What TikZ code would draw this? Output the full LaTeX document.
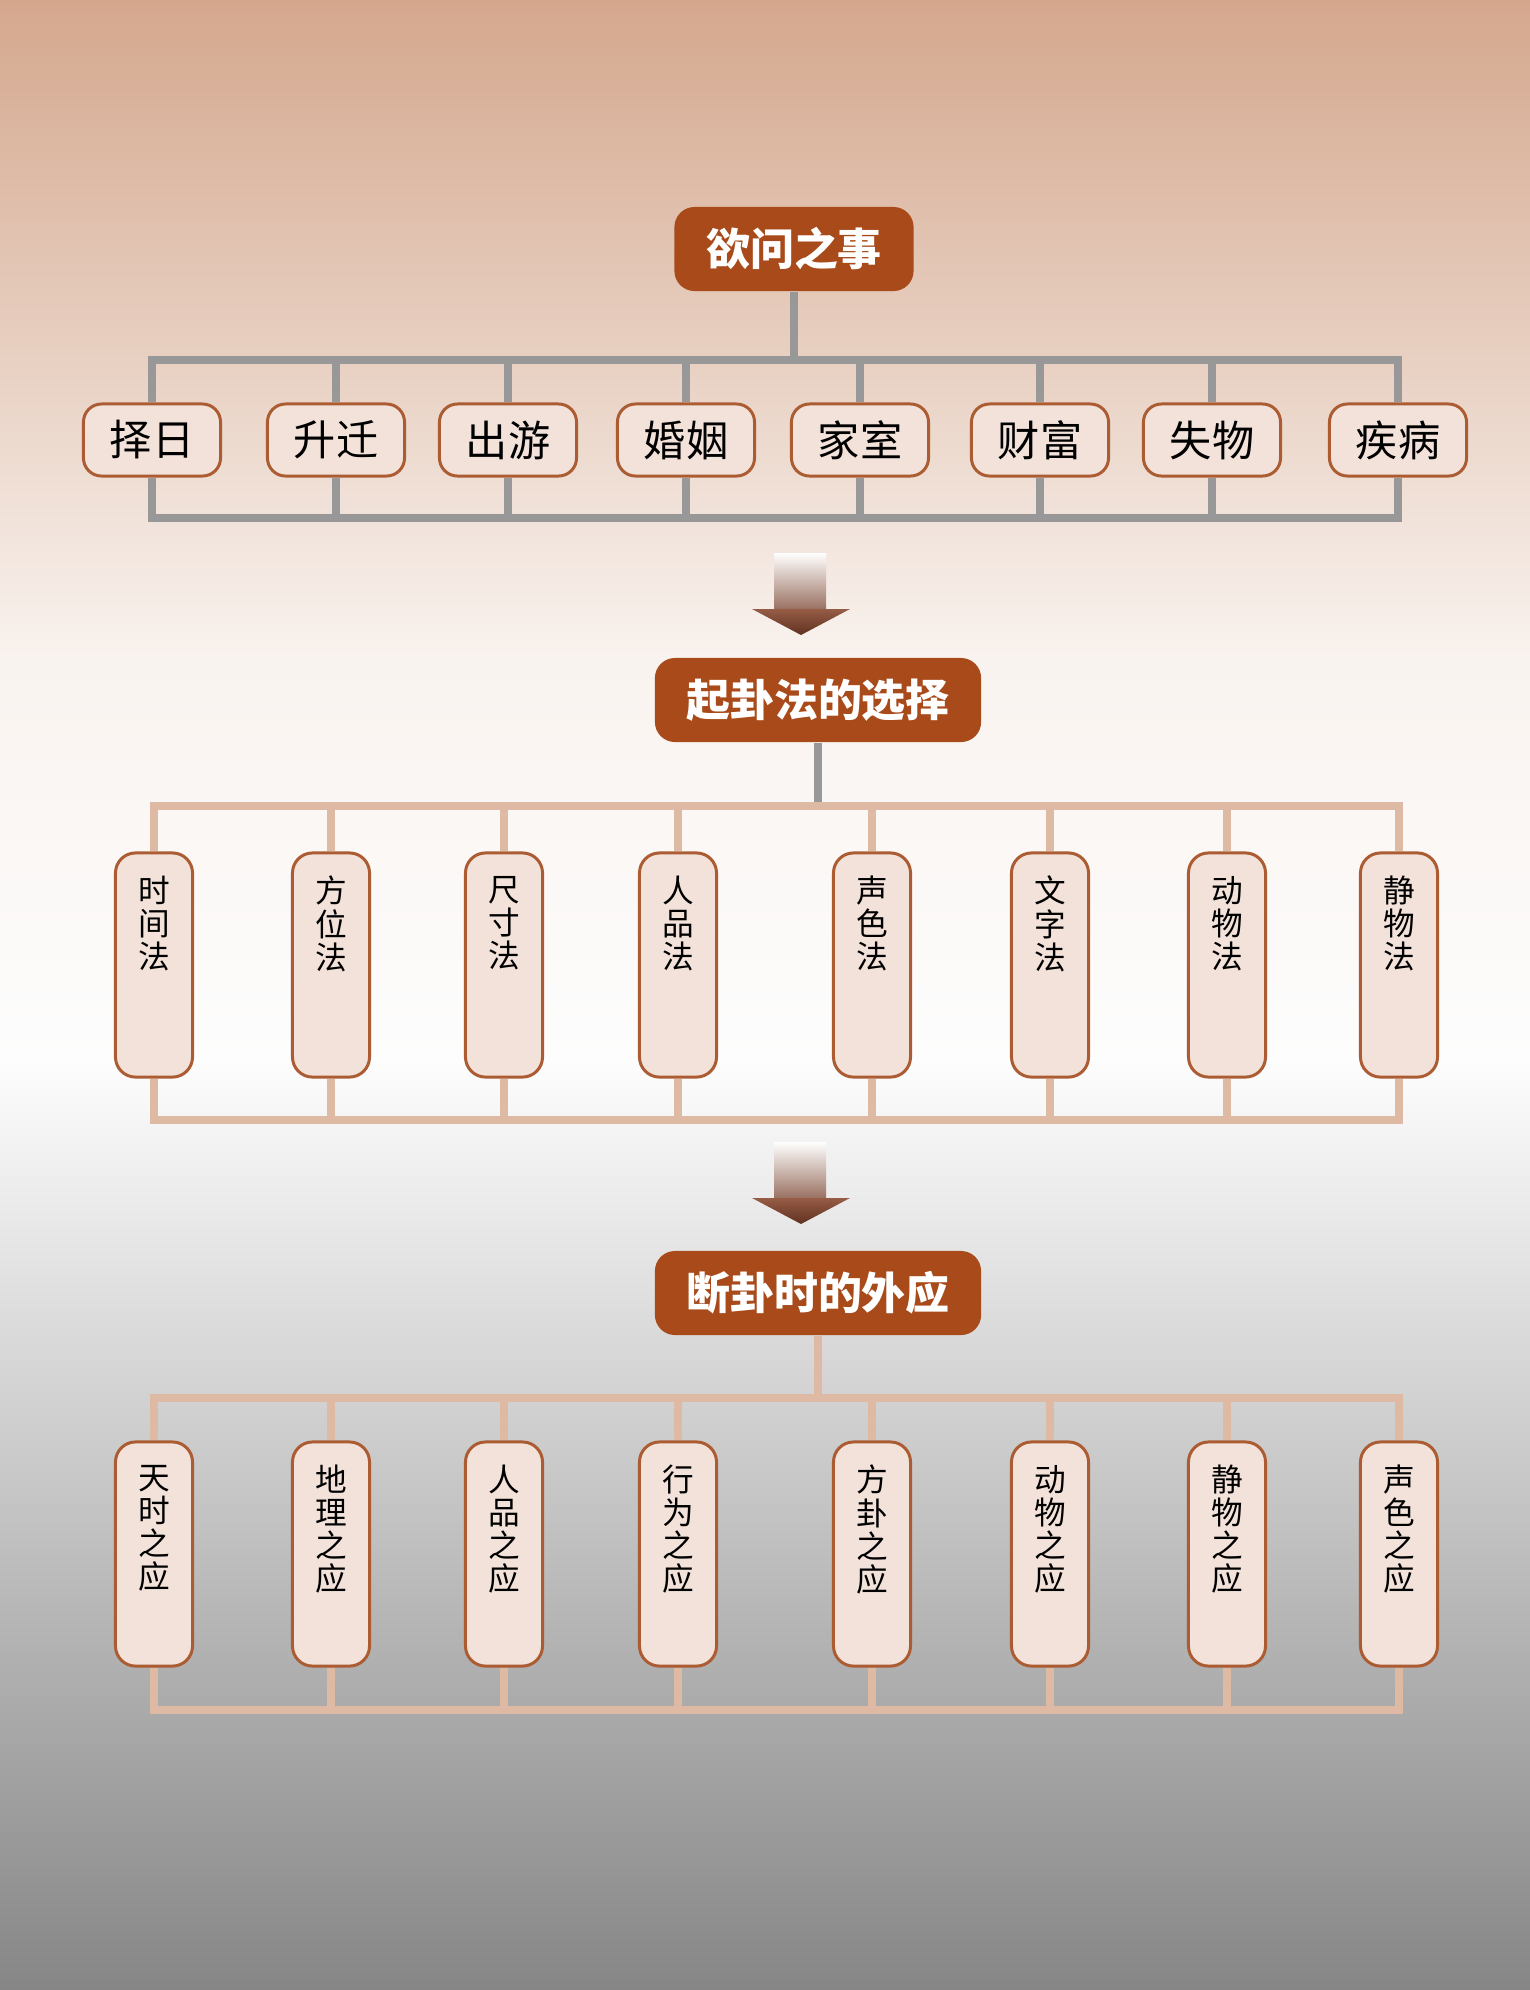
\documentclass[tikz,border=0pt]{standalone}
\usepackage{fontspec}
\newfontfamily\cjk{Noto Sans CJK SC}
\usepackage{tikz}
\usetikzlibrary{positioning,backgrounds}
\definecolor{bgtop}{RGB}{212,167,141}
\definecolor{bgmid}{RGB}{249,243,239}
\definecolor{bgwhite}{RGB}{253,253,253}
\definecolor{bgbot}{RGB}{134,134,134}
\definecolor{headfill}{RGB}{168,74,26}
\definecolor{itemfill}{RGB}{242,226,218}
\definecolor{itemdraw}{RGB}{172,92,50}
\definecolor{greyline}{RGB}{152,152,152}
\definecolor{tanline}{RGB}{222,186,164}
\definecolor{arrowmid}{RGB}{150,108,92}
\definecolor{arrowlight}{RGB}{150,92,70}
\definecolor{arrowdark}{RGB}{96,50,32}

\begin{document}
\begin{tikzpicture}[x=0.01cm,y=-0.01cm,
head/.style={rectangle,rounded corners=0.2cm,fill=headfill,text=white,font=\cjk\bfseries\fontsize{12.5}{13}\selectfont,minimum height=0.84cm,inner sep=0pt},
item/.style={rectangle,rounded corners=0.18cm,draw=itemdraw,line width=0.85pt,fill=itemfill,font=\cjk\fontsize{12}{13}\selectfont,minimum width=1.37cm,minimum height=0.72cm,inner sep=0pt},
tallitem/.style={rectangle,rounded corners=0.2cm,draw=itemdraw,line width=0.85pt,fill=itemfill,minimum width=0.77cm,minimum height=2.24cm,inner sep=0pt},
vtext/.style={font=\cjk\fontsize{9}{9.4}\selectfont,align=center,inner sep=0pt},
greybar/.style={line width=0.08cm,draw=greyline},
tanbar/.style={line width=0.08cm,draw=tanline}]
\useasboundingbox (0,0) rectangle (1530,1990);
\node[head,minimum width=2.39cm] (h1) at (794,249) {欲问之事};
\node[head,minimum width=3.26cm] (h2) at (818,700) {起卦法的选择};
\node[head,minimum width=3.26cm] (h3) at (818,1293) {断卦时的外应};
\foreach \x/\t [count=\i] in {152/择日,336/升迁,508/出游,686/婚姻,860/家室,1040/财富,1212/失物,1398/疾病}
  \node[item] (r\i) at (\x,440) {\t};
\foreach \x/\t [count=\i] in {154/时\\间\\法,331/方\\位\\法,504/尺\\寸\\法,678/人\\品\\法,872/声\\色\\法,1050/文\\字\\法,1227/动\\物\\法,1399/静\\物\\法}
  {\node[tallitem] (f\i) at (\x,965) {}; \node[vtext,below=0.24cm of f\i.north] (ft\i) {\t};}
\foreach \x/\t [count=\i] in {154/天\\时\\之\\应,331/地\\理\\之\\应,504/人\\品\\之\\应,678/行\\为\\之\\应,872/方\\卦\\之\\应,1050/动\\物\\之\\应,1227/静\\物\\之\\应,1399/声\\色\\之\\应}
  {\node[tallitem] (w\i) at (\x,1554) {}; \node[vtext,below=0.24cm of w\i.north] (wt\i) {\t};}
\coordinate (rtop) at (0,360); \coordinate (rbot) at (0,518);
\coordinate (ftop) at (0,806); \coordinate (fbot) at (0,1120);
\coordinate (wtop) at (0,1398); \coordinate (wbot) at (0,1710);
\begin{scope}[on background layer]
\shade[top color=bgtop,bottom color=bgmid] (0,0) rectangle (1530,661);
\shade[top color=bgmid,bottom color=bgwhite] (0,660) rectangle (1530,1061);
\shade[top color=bgwhite,bottom color=bgbot] (0,1060) rectangle (1530,1990);
\shade[top color=white,bottom color=arrowmid] (774,553) rectangle (826,611);
\shade[top color=arrowlight,bottom color=arrowdark] (752,609) -- (850,609) -- (801,635) -- cycle;
\shade[top color=white,bottom color=arrowmid] (774,1142) rectangle (826,1200);
\shade[top color=arrowlight,bottom color=arrowdark] (752,1198) -- (850,1198) -- (801,1224) -- cycle;
\draw[greybar] (h1.south) -- (h1.south |- rtop);
\draw[greybar] (r1.north) |- (rtop -| r8.north) -- (r8.north);
\draw[greybar] (r1.south) |- (rbot -| r8.south) -- (r8.south);
\draw[greybar] (h2.south) -- (h2.south |- ftop);
\draw[tanbar] (f1.north) |- (ftop -| f8.north) -- (f8.north);
\draw[tanbar] (f1.south) |- (fbot -| f8.south) -- (f8.south);
\draw[tanbar] (h3.south) -- (h3.south |- wtop);
\draw[tanbar] (w1.north) |- (wtop -| w8.north) -- (w8.north);
\draw[tanbar] (w1.south) |- (wbot -| w8.south) -- (w8.south);
\foreach \i in {2,...,7} {
  \draw[greybar] (r\i.north) -- (r\i.north |- rtop); \draw[greybar] (r\i.south) -- (r\i.south |- rbot);
  \draw[tanbar] (f\i.north) -- (f\i.north |- ftop); \draw[tanbar] (f\i.south) -- (f\i.south |- fbot);
  \draw[tanbar] (w\i.north) -- (w\i.north |- wtop); \draw[tanbar] (w\i.south) -- (w\i.south |- wbot);
}
\end{scope}
\end{tikzpicture}
\end{document}
